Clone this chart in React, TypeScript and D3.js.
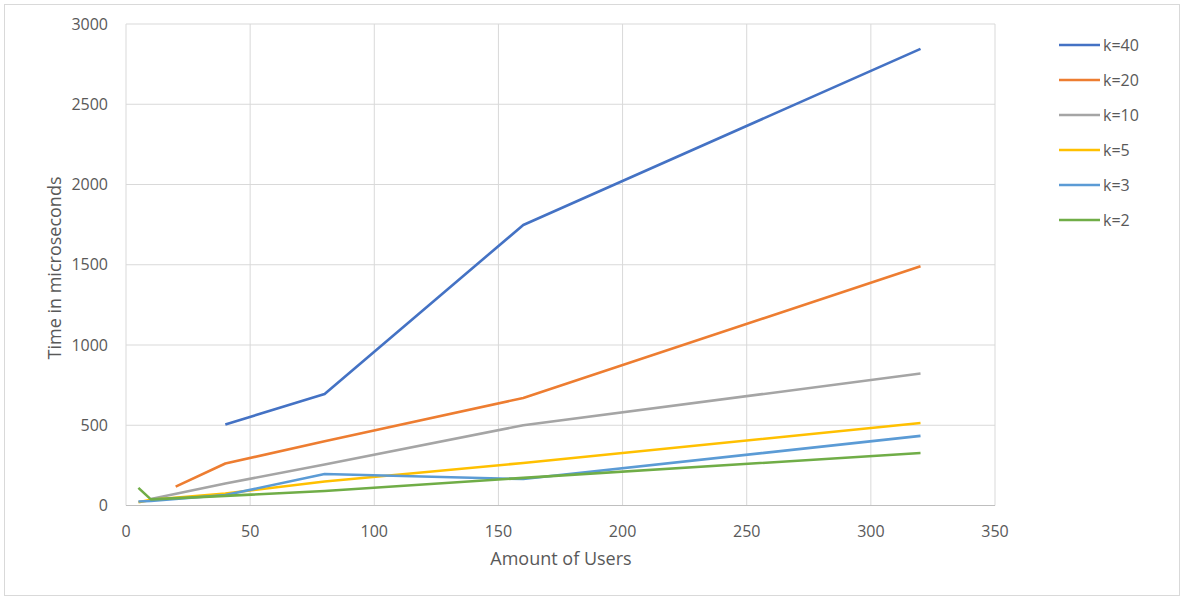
import React from "react";
import * as d3 from "d3";

// Users counts and timing series (microseconds)
const users = [5, 10, 20, 40, 80, 160, 320];
const seriesNames = ["k=40", "k=20", "k=10", "k=5", "k=3", "k=2"];
const k40 = [null, null, null, 505, 695, 1748, 2845];
const k20 = [null, null, 118, 262, 400, 670, 1490];
const k10 = [null, 40, null, 137, 255, 500, 822];
const k5 = [20, 35, null, 75, 150, 265, 514];
const k3 = [25, 28, null, 65, 196, 165, 434];
const k2 = [110, 38, null, 60, 90, 172, 327];
const seriesColors = ["#4472C4", "#ED7D31", "#A5A5A5", "#FFC000", "#5B9BD5", "#70AD47"];
const xTicks = [0, 50, 100, 150, 200, 250, 300, 350];
const yTicks = [0, 500, 1000, 1500, 2000, 2500, 3000];

const W = 1182;
const H = 599;
const FONT = "'Open Sans', 'Noto Sans', sans-serif";

export default function App() {
  const x = d3.scaleLinear().domain([0, 350]).range([126, 995]);
  const y = d3.scaleLinear().domain([0, 3000]).range([505.5, 24]);
  const all = [k40, k20, k10, k5, k3, k2];
  const line = d3
    .line<[number, number]>()
    .x((d) => x(d[0]))
    .y((d) => y(d[1]));

  return (
    <div style={{ position: "fixed", left: 0, top: 0 }}>
      <svg width={W} height={H} style={{ display: "block" }}>
        <rect x={0} y={0} width={W} height={H} fill="#fff" />
        <rect x={4.5} y={4.5} width={W - 7} height={H - 8} fill="none" stroke="#D9D9D9" />
        {/* gridlines */}
        {yTicks.map((t) => (
          <line key={"gy" + t} x1={x(0)} x2={x(350)} y1={y(t)} y2={y(t)} stroke="#D9D9D9" strokeWidth={1} />
        ))}
        {xTicks.map((t) => (
          <line key={"gx" + t} x1={x(t)} x2={x(t)} y1={y(0)} y2={y(3000)} stroke="#D9D9D9" strokeWidth={1} />
        ))}
        <line x1={x(0)} x2={x(350)} y1={y(0)} y2={y(0)} stroke="#BFBFBF" strokeWidth={1} />
        {/* tick labels */}
        {yTicks.map((t) => (
          <text key={"ty" + t} x={108} y={y(t)} dy="0.35em" textAnchor="end" fontFamily={FONT} fontSize={16} fill="#595959">
            {t}
          </text>
        ))}
        {xTicks.map((t) => (
          <text key={"tx" + t} x={x(t)} y={531} dy="0.35em" textAnchor="middle" fontFamily={FONT} fontSize={16} fill="#595959">
            {t}
          </text>
        ))}
        <text x={561} y={559} dy="0.35em" textAnchor="middle" fontFamily={FONT} fontSize={18} fill="#595959">
          Amount of Users
        </text>
        <text
          transform={`translate(55,268) rotate(-90)`}
          dy="0.35em"
          textAnchor="middle"
          fontFamily={FONT}
          fontSize={18}
          fill="#595959"
        >
          Time in microseconds
        </text>
        {/* series */}
        {all.map((vals, i) => {
          const pts = users
            .map((u, j) => [u, vals[j]] as [number, number | null])
            .filter((p) => p[1] !== null) as [number, number][];
          return (
            <path
              key={seriesNames[i]}
              d={line(pts) || ""}
              fill="none"
              stroke={seriesColors[i]}
              strokeWidth={2.6}
              strokeLinejoin="round"
            />
          );
        })}
        {/* legend */}
        {seriesNames.map((n, i) => (
          <g key={"lg" + n} transform={`translate(1059,${45 + i * 35})`}>
            <line x1={0} x2={41} y1={0} y2={0} stroke={seriesColors[i]} strokeWidth={2.6} />
            <text x={44} y={0} dy="0.35em" fontFamily={FONT} fontSize={16} fill="#595959">
              {n}
            </text>
          </g>
        ))}
      </svg>
    </div>
  );
}
